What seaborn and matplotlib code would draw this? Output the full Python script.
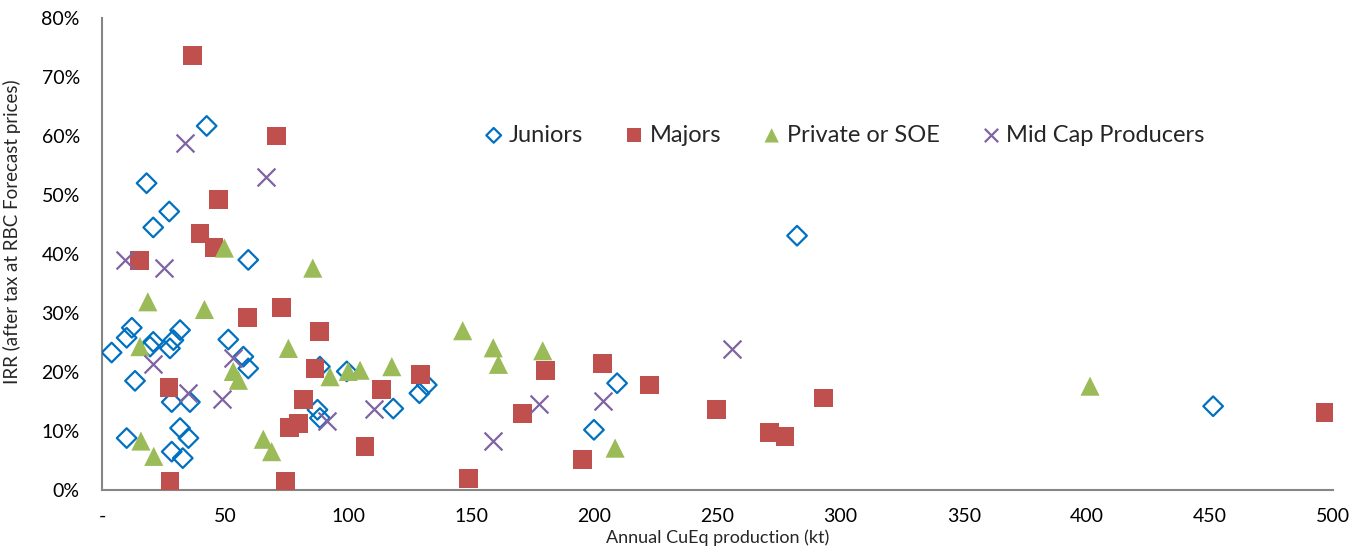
import matplotlib
matplotlib.use("Agg")
import matplotlib.pyplot as plt
import seaborn as sns
import pandas as pd
from matplotlib.ticker import FuncFormatter, MultipleLocator

# Annual CuEq production (kt) and after-tax IRR (%) by project owner type
juniors_x = [3.9, 10.0, 12.1, 20.8, 19.5, 31.7, 29.0, 27.6, 13.4, 28.3, 35.7, 10.0,
             31.7, 35.1, 28.3, 32.8, 18.1, 27.3, 20.8, 59.4, 42.5, 51.3, 57.4, 59.4,
             88.5, 99.4, 87.5, 88.5, 118.3, 128.9, 131.9, 209.2, 199.8, 282.3, 451.3]
juniors_y = [23.3, 25.8, 27.5, 25.1, 24.3, 27.1, 25.4, 24.0, 18.5, 14.9, 14.9, 8.8,
             10.5, 8.8, 6.5, 5.4, 52.0, 47.2, 44.5, 39.0, 61.7, 25.5, 22.6, 20.6,
             20.9, 20.1, 13.6, 12.2, 13.8, 16.4, 17.8, 18.1, 10.2, 43.1, 14.2]

majors_x = [36.7, 70.9, 47.2, 39.8, 45.5, 15.4, 59.2, 73.0, 88.5, 86.5, 82.0, 79.7,
            76.0, 74.7, 106.8, 27.2, 27.6, 148.8, 170.7, 180.3, 203.2, 195.1, 222.2,
            129.2, 113.6, 249.4, 271.2, 277.4, 292.9, 496.8]
majors_y = [73.6, 60.0, 49.3, 43.5, 41.1, 38.9, 29.2, 31.0, 26.8, 20.6, 15.4, 11.3,
            10.6, 1.4, 7.3, 17.4, 1.4, 2.0, 13.0, 20.3, 21.5, 5.2, 17.8,
            19.5, 17.1, 13.7, 9.7, 9.0, 15.6, 13.2]

private_x = [49.7, 18.6, 41.6, 85.6, 75.7, 15.4, 15.8, 21.0, 65.5, 68.9, 53.3, 55.4,
             92.6, 100.0, 104.8, 117.7, 146.5, 158.9, 161.0, 179.0, 208.4, 401.3]
private_y = [41.0, 31.9, 30.6, 37.6, 24.0, 24.3, 8.3, 5.7, 8.6, 6.5, 20.1, 18.6,
             19.2, 20.1, 20.3, 20.9, 27.0, 24.1, 21.3, 23.6, 7.1, 17.6]

midcap_x = [33.7, 66.6, 9.3, 25.2, 20.6, 35.1, 53.1, 48.6, 110.6, 91.3, 158.7, 177.5,
            203.6, 255.9]
midcap_y = [58.8, 53.0, 39.0, 37.6, 21.3, 16.4, 22.3, 15.4, 13.8, 11.7, 8.3, 14.5,
            15.0, 23.9]

x_ticks = [0, 50, 100, 150, 200, 250, 300, 350, 400, 450, 500]
x_tick_labels = ["-", "50", "100", "150", "200", "250", "300", "350", "400", "450", "500"]

groups = [
    ("Juniors", juniors_x, juniors_y),
    ("Majors", majors_x, majors_y),
    ("Private or SOE", private_x, private_y),
    ("Mid Cap Producers", midcap_x, midcap_y),
]
frames = [pd.DataFrame({"prod": gx, "irr": [v / 100 for v in gy], "group": name})
          for name, gx, gy in groups]
df = pd.concat(frames, ignore_index=True)

sns.set_theme(style="white")
plt.rcParams["font.family"] = ["Lato", "DejaVu Sans"]

fig = plt.figure(figsize=(13.64, 5.5), dpi=100)
ax = fig.add_axes([0.0748, 0.1091, 0.9025, 0.8582])

styles = {
    "Juniors": dict(marker="D", s=100, facecolors="none", edgecolor="#0070C0", linewidth=1.6),
    "Majors": dict(marker="s", s=185, color="#C0504D", edgecolor="none", linewidth=0),
    "Private or SOE": dict(marker="^", s=190, color="#9BBB59", edgecolor="none", linewidth=0),
    "Mid Cap Producers": dict(marker="x", s=165, color="#8064A2", linewidth=1.6),
}
for name, _, _ in groups:
    sub = df[df["group"] == name]
    sns.scatterplot(data=sub, x="prod", y="irr", ax=ax, label=name, zorder=3, **styles[name])

ax.set_xlim(0, 500)
ax.set_ylim(0, 0.8)
ax.set_xticks(x_ticks)
ax.set_xticklabels(x_tick_labels)
ax.yaxis.set_major_locator(MultipleLocator(0.1))
ax.yaxis.set_major_formatter(FuncFormatter(lambda v, _: f"{v * 100:.0f}%"))

for side in ("top", "right"):
    ax.spines[side].set_visible(False)
for side in ("left", "bottom"):
    ax.spines[side].set_color("#868686")
    ax.spines[side].set_linewidth(1.5)

ax.tick_params(axis="both", length=0, labelsize=14, colors="#000000")
ax.tick_params(axis="y", pad=16)
ax.tick_params(axis="x", pad=13)

ax.set_xlabel("Annual CuEq production (kt)", fontsize=13, va="top")
ax.set_ylabel("IRR (after tax at RBC Forecast prices)", fontsize=13.5)
ax.xaxis.set_label_coords(0.5, -0.083)
ax.yaxis.set_label_coords(-0.066, 0.547)

ax.legend(loc="center", bbox_to_anchor=(0.603, 0.752), ncol=4, frameon=False,
          fontsize=17, handlelength=0.8, handletextpad=0.25, columnspacing=1.75,
          markerscale=0.75, borderaxespad=0)

fig.savefig("out.png", dpi=100)
